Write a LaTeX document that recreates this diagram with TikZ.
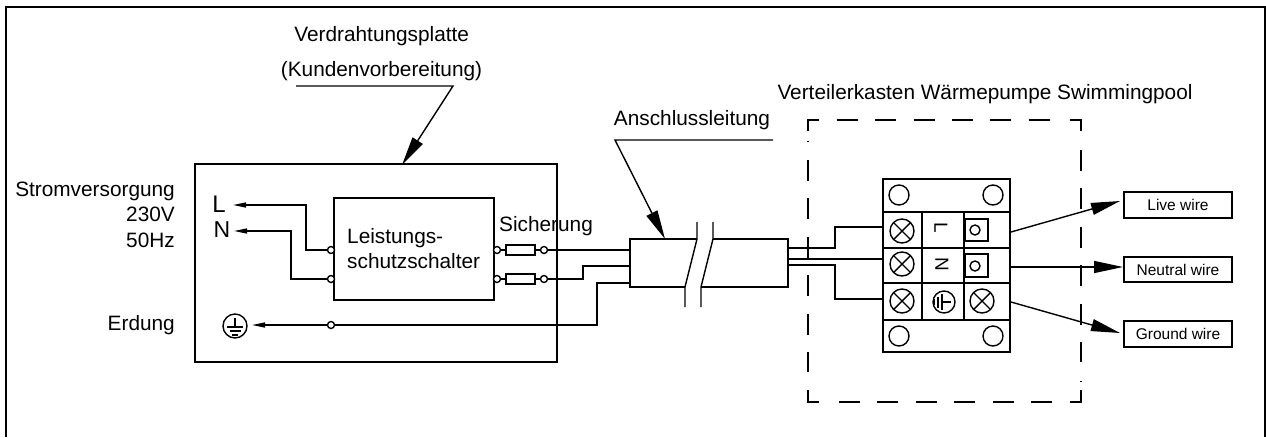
\documentclass[tikz,border=0pt]{standalone}
\usepackage{fontspec}
\setmainfont{Liberation Sans}
\usetikzlibrary{arrows.meta}
\begin{document}
\begin{tikzpicture}[%
            x=1pt, y=-1pt,
            mywire/.style={line width=1.4pt, line join=miter},
            myheavy/.style={line width=1.6pt},
            mysmallarrow/.style={mywire, -{Triangle[length=13pt,width=5pt]}},
            mybigarrow/.style={mywire, -{Triangle[length=29pt,width=12pt]}},
            myterm/.style={shape=circle, draw, fill=white, line width=1.4pt, inner sep=0pt, minimum size=7pt},
            myhole/.style={shape=circle, draw, line width=1.4pt, inner sep=0pt, minimum size=20pt},
            myscrew/.style={shape=circle, draw, line width=1.4pt, inner sep=0pt, minimum size=24pt,
                path picture={\draw (path picture bounding box.south west) -- (path picture bounding box.north east)
                    (path picture bounding box.north west) -- (path picture bounding box.south east);}},
            mybox/.style={shape=rectangle, draw, myheavy, inner sep=0pt},
            mytext/.style={inner sep=0pt, anchor=base, font=\fontsize{20.8}{24}\selectfont},
            mylabel/.style={mybox, font=\fontsize{15.5}{18}\selectfont},
            earthsym/.pic={
                \draw [mywire] (0,-9) -- (0,0) (-8,0) -- (8,0) (-5.5,4) -- (5.5,4) (-3,8) -- (3,8);
            }
        ]
        \useasboundingbox (0,0) rectangle (1266,437);
        \draw [myheavy] (6,437) -- (6,7) -- (1265,7) -- (1265,437);

        \begin{scope}
            \node [mybox, minimum width=362pt, minimum height=198pt] (panel) at (376,263) {};
            \node [mybox, minimum width=160pt, minimum height=102pt] (breaker) at (414,249) {};
            \node [mytext, anchor=base west] (leistA) at (347,243) {Leistungs-};
            \node [mytext, anchor=base west] (leistB) at (347,268) {schutzschalter};
            \node [mytext, anchor=base] (sicherung) at (546,231) {Sicherung};
            \node [mytext, anchor=base east] (strom) at (175,196) {Stromversorgung};
            \node [mytext, anchor=base east] (volt) at (175,221) {230V};
            \node [mytext, anchor=base east] (hertz) at (175,247) {50Hz};
            \node [mytext, anchor=base east] (erdung) at (175,330) {Erdung};
            \node [inner sep=0pt, font=\fontsize{24}{24}\selectfont] (letterL) at (219,204) {L};
            \node [inner sep=0pt, font=\fontsize{23}{24}\selectfont] (letterN) at (222,230) {N};

            \node [myterm] (brkA) at (331,250) {};
            \node [myterm] (brkB) at (331,279) {};
            \node [myterm] (brkC) at (497,250) {};
            \node [myterm] (brkD) at (497,279) {};
            \node [myterm] (endA) at (544,250) {};
            \node [myterm] (endB) at (544,279) {};
            \node [myterm] (earthPt) at (331,325) {};
            \node [mybox, mywire, minimum width=29pt, minimum height=10pt] (fuseA) at (520.5,250) {};
            \node [mybox, mywire, minimum width=29pt, minimum height=10pt] (fuseB) at (520.5,279) {};
            \node [myterm, minimum size=24pt, fill=none] (earthA) at (235,326) {};
            \pic at (235,327) {earthsym};

            \coordinate (tipL) at (233,205);
            \coordinate (tipN) at (234,231);
            \coordinate (tipE) at (252,325);
            \draw [mysmallarrow] (brkA) -- ++(-25,0) |- (tipL);
            \draw [mysmallarrow] (brkB) -- ++(-40,0) |- (tipN);
            \draw [mysmallarrow] (earthPt) -- (tipE);
            \draw [mywire] (brkC) -- (fuseA) -- (endA);
            \draw [mywire] (brkD) -- (fuseB) -- (endB);
        \end{scope}

        \begin{scope}
            \coordinate (cableNW) at (630,239);
            \coordinate (cableSW) at (630,287);
            \coordinate (cableNE) at (788,239);
            \coordinate (cableSE) at (788,287);
            \coordinate (cutAup) at (697,222);
            \coordinate (cutAtop) at (697,239);
            \coordinate (cutAbot) at (685,287);
            \coordinate (cutAlow) at (685,307);
            \coordinate (cutBup) at (713,222);
            \coordinate (cutBtop) at (713,239);
            \coordinate (cutBbot) at (701,287);
            \coordinate (cutBlow) at (701,307);
            \draw [mywire] (cutAbot) -- (cableSW) -- (cableNW) -- (cutAtop);
            \draw [mywire] (cutBtop) -- (cableNE) -- (cableSE) -- (cutBbot);
            \draw [mywire] (cutAup) -- (cutAtop) -- (cutAbot) -- (cutAlow);
            \draw [mywire] (cutBup) -- (cutBtop) -- (cutBbot) -- (cutBlow);

            \coordinate (cableLA) at (630,250);
            \coordinate (cableLB) at (630,266);
            \coordinate (cableLC) at (630,283);
            \coordinate (cableRA) at (788,248);
            \coordinate (cableRB) at (788,259);
            \coordinate (cableRC) at (788,265);
            \draw [mywire] (endA) -- (cableLA);
            \draw [mywire] (endB) -- ++(39,0) |- (cableLB);
            \draw [mywire] (earthPt) -- ++(266,0) |- (cableLC);
        \end{scope}

        \begin{scope}
            \node [mybox, minimum width=127pt, minimum height=173pt] (block) at (946.5,265.5) {};
            \coordinate (colA) at (922,212);
            \coordinate (colAend) at (922,320);
            \coordinate (colB) at (964,212);
            \coordinate (colBend) at (964,320);
            \coordinate (rowAw) at (883,212);
            \coordinate (rowAe) at (1010,212);
            \coordinate (rowBw) at (883,248);
            \coordinate (rowBe) at (1010,248);
            \coordinate (rowCw) at (883,283);
            \coordinate (rowCe) at (1010,283);
            \coordinate (rowDw) at (883,320);
            \coordinate (rowDe) at (1010,320);
            \draw [mywire] (rowAw) -- (rowAe) (rowBw) -- (rowBe) (rowCw) -- (rowCe) (rowDw) -- (rowDe);
            \draw [mywire] (colA) -- (colAend) (colB) -- (colBend);

            \node [myhole] (holeA) at (899,195) {};
            \node [myhole] (holeB) at (993,195) {};
            \node [myhole] (holeC) at (899,336) {};
            \node [myhole] (holeD) at (993,336) {};
            \node [myscrew] (screwA) at (902,231) {};
            \node [myscrew] (screwB) at (902,264) {};
            \node [myscrew] (screwC) at (902,301) {};
            \node [myscrew] (screwD) at (982,301) {};
            \node [inner sep=0pt, rotate=-90, font=\fontsize{19}{20}\selectfont] (rotL) at (941,228) {L};
            \node [inner sep=0pt, rotate=-90, font=\fontsize{19}{20}\selectfont] (rotN) at (942,264) {N};
            \node [myterm, minimum size=22pt, fill=none] (earthB) at (944,302) {};
            \pic [rotate=-90] at (942,302) {earthsym};
            \node [mybox, mywire, minimum width=23pt, minimum height=22pt] (clampA) at (976.5,230) {};
            \node [mybox, mywire, minimum width=23pt, minimum height=23pt] (clampB) at (976.5,265.5) {};
            \node [myterm, minimum size=10pt, fill=none] (pinA) at (975,230) {};
            \node [myterm, minimum size=10pt, fill=none] (pinB) at (975,266) {};

            \coordinate (termA) at (883,227);
            \coordinate (termB) at (883,259);
            \coordinate (termC) at (883,299);
            \draw [mywire] (cableRA) -- ++(47,0) |- (termA);
            \draw [mywire] (cableRB) -- (termB);
            \draw [mywire] (cableRC) -- ++(47,0) |- (termC);
        \end{scope}

        \begin{scope}
            \node [mylabel, minimum width=108pt, minimum height=26pt] (liveBox) at (1178,205) {Live wire};
            \node [mylabel, minimum width=108pt, minimum height=25pt] (neutralBox) at (1178,269.5) {Neutral wire};
            \node [mylabel, minimum width=108pt, minimum height=26pt] (groundBox) at (1178,334) {Ground wire};
            \coordinate (outA) at (1011,232);
            \coordinate (outB) at (1011,267);
            \coordinate (outC) at (1011,302);
            \coordinate (tipA) at (1120,201);
            \coordinate (tipB) at (1123,267);
            \coordinate (tipC) at (1120,333);
            \draw [mybigarrow] (outA) -- (tipA);
            \draw [mybigarrow] (outB) -- (tipB);
            \draw [mybigarrow] (outC) -- (tipC);
        \end{scope}

        \begin{scope}[dash pattern=on 21pt off 17.4pt, mywire]
            \coordinate (dashNW) at (808,120);
            \coordinate (dashNE) at (1081,120);
            \coordinate (dashSW) at (808,402);
            \coordinate (dashSE) at (1081,402);
            \draw (836.7,120) -- (1052,120);
            \draw (839,402) -- (1052,402);
            \draw (808,160) -- (808,372);
            \draw (1081,150) -- (1081,362);
            \draw [solid] (808,131) -- (dashNW) -- (819,120);
            \draw [solid] (1070,120) -- (dashNE) -- (1081,131);
            \draw [solid] (808,390) -- (dashSW) -- (819,402);
            \draw [solid] (1070,402) -- (dashSE) -- (1081,390);
            \draw [solid] (808,140.5) -- (808,142);
            \draw [solid] (1081,380.5) -- (1081,382);
        \end{scope}

        \node [mytext] (platte) at (381.7,41) {Verdrahtungsplatte};
        \node [mytext] (kunde) at (381.5,76) {(Kundenvorbereitung)};
        \node [mytext] (anschluss) at (692,125) {Anschlussleitung};
        \node [mytext] (kasten) at (985,99) {Verteilerkasten Wärmepumpe Swimmingpool};

        \coordinate (leadA) at (296,86);
        \coordinate (leadB) at (453,86);
        \coordinate (leadTipA) at (402,165);
        \coordinate (leadC) at (773,140);
        \coordinate (leadD) at (615,140);
        \coordinate (leadTipB) at (665,239);
        \draw [mybigarrow] (leadA) -- (leadB) -- (leadTipA);
        \draw [mybigarrow] (leadC) -- (leadD) -- (leadTipB);
    \end{tikzpicture}
\end{document}
